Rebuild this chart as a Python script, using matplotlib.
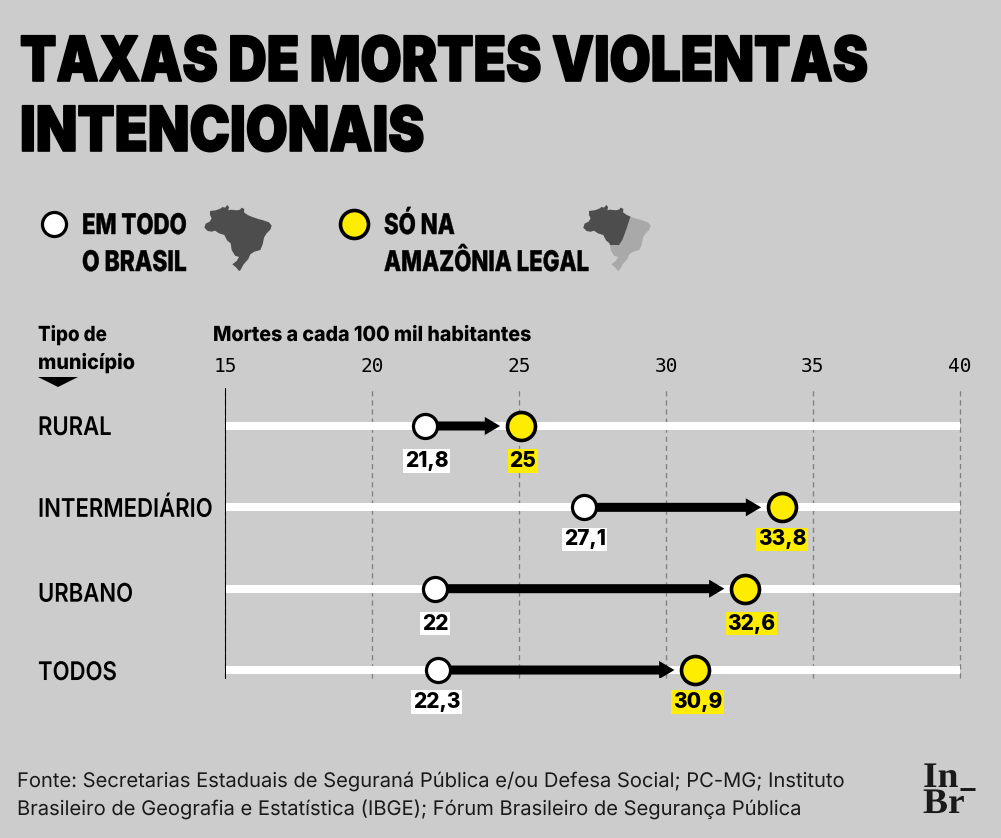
"""Taxas de mortes violentas intencionais: Brasil x Amazonia Legal, by type of municipality."""

import matplotlib

matplotlib.use("Agg")
import matplotlib.pyplot as plt
from matplotlib.patches import FancyArrowPatch, Polygon
from matplotlib.patheffects import AbstractPathEffect
from matplotlib.transforms import Affine2D

BG = "#cccccc"
YELLOW = "#ffed00"
DARK = "#4d4d4d"
LIGHT = "#a9a9a9"

CATEGORIES = ["RURAL", "INTERMEDIÁRIO", "URBANO", "TODOS"]
# dot centres, the labels as printed
BRASIL = [21.8, 27.2, 22.14, 22.24]
AMAZONIA = [25.07, 33.95, 32.7, 31.0]
BRASIL_LABELS = ["21,8", "27,1", "22", "22,3"]
AMAZONIA_LABELS = ["25", "33,8", "32,6", "30,9"]
TICKS = [15, 20, 25, 30, 35, 40]

# label nudges, pixels
LABEL_DROP = [35, 32, 35, 32]
BRASIL_DX = [2, 1, 0, -1]
AMAZONIA_DX = [2, 0, 6, 2]
CATEGORY_DY = [0, 0, -4, -1]

# Brazil outline, traced on the 3x zoom of the legend map
BRAZIL = [
    (45, 48), (62, 46), (68, 44), (78, 40), (82, 36), (90, 38), (97, 30), (102, 36),
    (100, 46), (108, 44), (125, 46), (135, 44), (140, 38), (148, 42), (147, 52),
    (158, 60), (172, 66), (190, 72), (205, 76), (222, 82), (230, 92), (226, 104),
    (214, 116), (207, 128), (203, 148), (196, 165), (178, 170), (166, 178), (160, 192),
    (146, 208), (136, 226), (132, 228), (124, 218), (112, 208), (125, 198), (132, 186),
    (120, 182), (110, 165), (107, 145), (96, 136), (88, 120), (72, 115), (60, 107),
    (50, 110), (38, 108), (28, 98), (32, 86), (44, 80), (50, 70), (45, 60),
]
AMAZON = [(0, 0), (172, 0), (170, 62), (158, 100), (145, 135), (135, 150), (108, 150), (0, 150)]

W, H = 1001, 838
PX = 72 / 100  # points per pixel


class Squeeze(AbstractPathEffect):
    """Scale glyphs about the text anchor, there are no condensed heavy fonts here."""

    def __init__(self, sx, sy=1.0, stroke=0.0, dy=0.0):
        super().__init__()
        self.sx, self.sy, self.stroke, self.dy = sx, sy, stroke, dy

    def draw_path(self, renderer, gc, tpath, affine, rgbFace=None):
        gc0 = renderer.new_gc()
        gc0.copy_properties(gc)
        gc0.set_foreground(rgbFace)
        gc0.set_linewidth(self.stroke)
        scaled = Affine2D().scale(self.sx, self.sy) + affine + Affine2D().translate(0, self.dy)
        renderer.draw_path(gc0, tpath, scaled, rgbFace)
        gc0.restore()


def main():
    fig = plt.figure(figsize=(W / 100, H / 100), dpi=100, facecolor=BG)

    # overlay in pixels for title, legend and footer
    page = fig.add_axes([0, 0, 1, 1], zorder=3)
    page.set_xlim(0, W)
    page.set_ylim(H, 0)
    page.axis("off")

    def label(x, y, s, size, weight, sx, sy=1.0, stroke=0.0, family="Inter", color="black"):
        page.text(x, y, s, fontsize=size, fontweight=weight, family=family, color=color,
                  va="baseline", ha="left", path_effects=[Squeeze(sx, sy, stroke)])

    label(20, 81, "TAXAS DE MORTES VIOLENTAS", 40, 900, 0.955, sy=1.12, stroke=1.2)
    label(20, 151, "INTENCIONAIS", 40, 900, 0.975, sy=1.12, stroke=1.2)

    # legend
    page.scatter([54], [224], s=300, color="white", edgecolor="black", linewidth=2.3, zorder=3)
    page.scatter([354], [224], s=406, color=YELLOW, edgecolor="black", linewidth=2.6, zorder=3)
    label(82, 234, "EM TODO", 20.5, 800, 0.78, stroke=0.3)
    label(82, 271, "O BRASIL", 20.5, 800, 0.8, stroke=0.3)
    label(384, 234, "SÓ NA", 20.5, 800, 0.78, stroke=0.3)
    label(384, 271, "AMAZÔNIA LEGAL", 20.5, 800, 0.78, stroke=0.3)

    def to_page(pts, x0, y0):
        return [(x0 + x / 3, y0 + y / 3) for x, y in pts]

    page.add_patch(Polygon(to_page(BRAZIL, 195, 195), color=DARK, lw=0))
    outline = Polygon(to_page(BRAZIL, 574, 195), color=LIGHT, lw=0)
    page.add_patch(outline)
    amazon = Polygon(to_page(AMAZON, 574, 195), color=DARK, lw=0)
    page.add_patch(amazon)
    amazon.set_clip_path(outline)

    # axis headers
    label(38, 341, "Tipo de", 15, 800, 0.9)
    label(38, 369, "município", 15, 800, 0.95)
    label(213, 341, "Mortes a cada 100 mil habitantes", 15, 800, 0.94)
    page.add_patch(Polygon([(38, 377), (78, 377), (58, 387)], color="black", lw=0))

    # footer and logo
    label(17, 787, "Fonte: Secretarias Estaduais de Seguraná Pública e/ou Defesa Social; PC-MG; Instituto",
          14.5, 400, 1.0, color="#1a1a1a")
    label(17, 815, "Brasileiro de Geografia e Estatística (IBGE); Fórum Brasileiro de Segurança Pública",
          14.5, 400, 1.0, color="#1a1a1a")
    label(923, 787, "In", 18, 700, 1.5, sy=1.44, family="Liberation Serif", color="#1a1a1a")
    label(923, 813, "Br", 18, 700, 1.5, sy=1.44, family="Liberation Serif", color="#1a1a1a")
    page.plot([960, 975], [789, 789], color="#1a1a1a", lw=3 * PX, solid_capstyle="butt")

    # chart proper: x 15..40 on 225..960 px, rows 81.33 px apart starting at 426 px
    ax = fig.add_axes([225 / W, 1 - 678 / H, 735 / W, 290 / H], facecolor="none")
    ax.set_xlim(15, 40)
    ax.set_ylim(3.098, -0.467)
    rows = list(range(len(CATEGORIES)))

    for name in ("top", "right", "bottom"):
        ax.spines[name].set_visible(False)
    ax.spines["left"].set_color("black")
    ax.spines["left"].set_linewidth(1 * PX)

    ax.xaxis.tick_top()
    ax.set_xticks(TICKS, [str(t) for t in TICKS], family="DejaVu Sans Mono", fontsize=14)
    ax.set_yticks(rows, CATEGORIES, family="Inter", fontsize=18.5, fontweight=600)
    ax.tick_params(axis="both", length=0)
    ax.tick_params(axis="x", pad=9)
    ax.tick_params(axis="y", pad=(225 - 38) * PX)
    for t, dy in zip(ax.get_yticklabels(), CATEGORY_DY):
        t.set_ha("left")
        t.set_path_effects([Squeeze(0.86, dy=dy)])

    ax.grid(axis="x", color="#808080", lw=1.3 * PX, linestyle=(0, (4, 3)), zorder=1)
    ax.set_axisbelow(True)
    for line in ax.get_xgridlines():
        line.set_clip_on(False)
    ax.hlines(rows, 15, 40, color="white", lw=8 * PX, zorder=2)

    for y, a, b in zip(rows, BRASIL, AMAZONIA):
        ax.add_patch(FancyArrowPatch(
            (a, y), (b, y), color="black", lw=0, zorder=3, shrinkA=0, shrinkB=21 * PX,
            mutation_scale=1, arrowstyle="simple,head_length=11,head_width=13,tail_width=6.5",
        ))
    ax.scatter(BRASIL, rows, s=300, color="white", edgecolor="black", linewidth=2.3,
               zorder=4, clip_on=False)
    ax.scatter(AMAZONIA, rows, s=406, color=YELLOW, edgecolor="black", linewidth=2.6,
               zorder=4, clip_on=False)

    # value labels
    def value(x, y, s, dx, drop, face):
        ax.annotate(s, (x, y), xytext=(dx * PX, -drop * PX), textcoords="offset points",
                    ha="center", va="center", family="Inter", fontsize=15, fontweight=800,
                    bbox=dict(boxstyle="square,pad=0.08", fc=face, ec="none"), zorder=5)

    for i, y in enumerate(rows):
        value(BRASIL[i], y, BRASIL_LABELS[i], BRASIL_DX[i], LABEL_DROP[i], "white")
        value(AMAZONIA[i], y, AMAZONIA_LABELS[i], AMAZONIA_DX[i], LABEL_DROP[i], YELLOW)

    fig.savefig("out.png", dpi=100, facecolor=BG)


if __name__ == "__main__":
    main()
